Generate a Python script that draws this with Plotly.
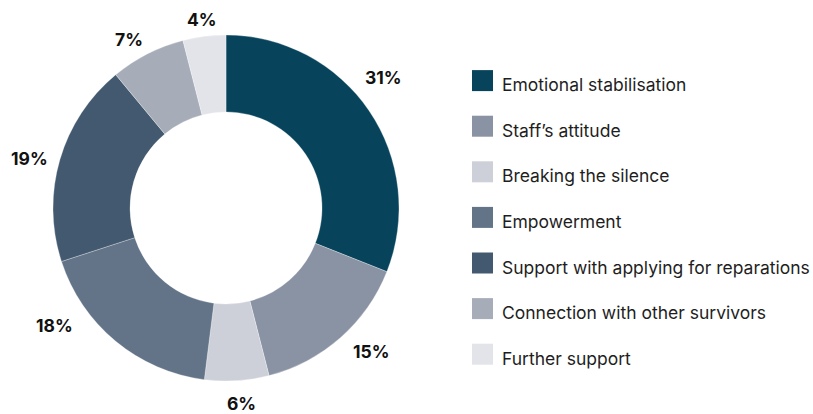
import math
import plotly.graph_objects as go

# Share of survivors naming each kind of help (%)
categories = [
    "Emotional stabilisation",
    "Staff\u2019s attitude",
    "Breaking the silence",
    "Empowerment",
    "Support with applying for reparations",
    "Connection with other survivors",
    "Further support",
]
shares = [31, 15, 6, 18, 19, 7, 4]
colors = ["#07445c", "#8a93a3", "#cdd0d8", "#637489", "#42596f", "#a7adb8", "#e3e4ea"]

# Per-label placement tweaks: angular nudge (degrees) and distance from centre (px)
label_nudge = [-5.5, -4, -1, 16, -2, -3, 0]
label_dist = [205, 205, 196, 208, 203, 194, 190]

W, H = 813, 414
CX, CY, R = 226, 208, 173      # donut centre and outer radius in pixels

fig = go.Figure(
    go.Pie(
        labels=categories,
        values=shares,
        marker=dict(colors=colors, line=dict(color="white", width=0.3)),
        hole=0.555,
        sort=False,
        direction="clockwise",
        rotation=0,
        textinfo="none",
        hoverinfo="label+value",
        showlegend=False,
        domain=dict(x=[(CX - R) / W, (CX + R) / W], y=[1 - (CY + R) / H, 1 - (CY - R) / H]),
    )
)

annotations = []
total = sum(shares)
cum = 0
for v, nudge, dist in zip(shares, label_nudge, label_dist):
    mid = (cum + v / 2) / total * 360 + nudge
    cum += v
    a = math.radians(mid)
    px = CX + dist * math.sin(a)
    py = CY - dist * math.cos(a)
    annotations.append(dict(
        x=px / W, y=1 - py / H, xref="paper", yref="paper",
        text=f"<b>{v}%</b>", showarrow=False,
        xanchor="center", yanchor="middle",
        font=dict(family="Inter", size=17.5, color="#111111"),
    ))

# Legend: colour swatch plus label per row
shapes = []
ROW0, ROW_STEP, SW = 80.6, 45.6, 21
for i, (name, col) in enumerate(zip(categories, colors)):
    yc = ROW0 + i * ROW_STEP
    shapes.append(dict(
        type="rect", xref="paper", yref="paper",
        x0=472 / W, x1=(472 + SW) / W,
        y0=1 - (yc + SW / 2) / H, y1=1 - (yc - SW / 2) / H,
        fillcolor=col, line=dict(width=0),
    ))
    annotations.append(dict(
        x=500 / W, y=1 - (yc + 4) / H, xref="paper", yref="paper",
        text=name, showarrow=False, xanchor="left", yanchor="middle",
        font=dict(family="Inter", size=17.5, color="#1e1e1e"),
    ))

fig.update_layout(
    width=W, height=H,
    margin=dict(l=0, r=0, t=0, b=0),
    paper_bgcolor="white", plot_bgcolor="white",
    annotations=annotations, shapes=shapes,
)

fig.write_html("out.html")
